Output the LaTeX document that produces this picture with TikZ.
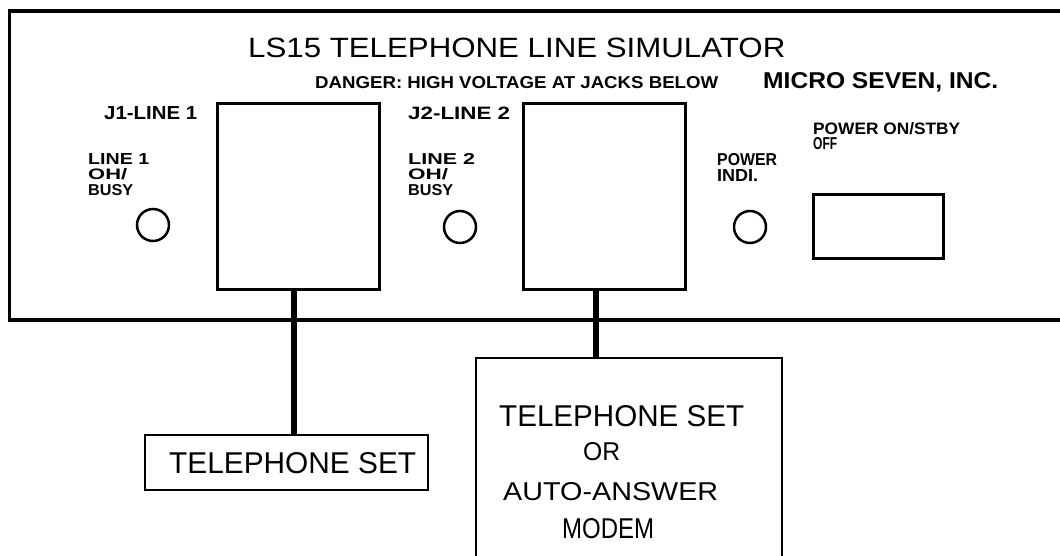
\documentclass[tikz,border=0pt]{standalone}
\usepackage{fontspec}
\setmainfont{Liberation Sans}
\usepackage{graphicx}
\usetikzlibrary{positioning}

% lettering stretched to the plotted size: width, cap height, text
\newcommand{\cadtext}[3]{\resizebox{#1pt}{#2pt}{#3}}

\tikzset{
  panel/.style={line width=3.5pt},
  jack/.style={draw, line width=3pt, minimum width=162pt, minimum height=185pt, inner sep=0pt},
  led/.style={draw, circle, line width=2.5pt, minimum size=32pt, inner sep=0pt},
  devbox/.style={draw, line width=2.5pt, inner sep=0pt},
  cable/.style={line width=5.5pt},
  lbl/.style={inner sep=0pt, anchor=base west},
}

\begin{document}
\begin{tikzpicture}[x=1pt, y=-1pt]
  \useasboundingbox (0,0) rectangle (1060,556);
  \clip (0,0) rectangle (1060,556);

  % front panel
  \draw[panel] (9.5,11) rectangle (1085,320);
  \node[lbl] (title) at (248,57.5) {\cadtext{537}{19.5}{LS15 TELEPHONE LINE SIMULATOR}};
  \node[lbl] (danger) at (315,88.5) {\cadtext{403}{12}{\bfseries DANGER: HIGH VOLTAGE AT JACKS BELOW}};
  \node[lbl] (maker) at (763,89) {\cadtext{235}{16}{\bfseries MICRO SEVEN, INC.}};

  % jacks
  \node[jack] (jack1) at (298.5,196.5) {};
  \node[jack] (jack2) at (604,196.5) {};
  \node[lbl] (jack1lbl) at (104,120) {\cadtext{93}{13}{\bfseries J1-LINE 1}};
  \node[lbl] (jack2lbl) at (408,119.5) {\cadtext{102}{12.5}{\bfseries J2-LINE 2}};

  % indicators
  \foreach \n/\x/\y in {led1/153/225, led2/460/227, pwrled/750/227}{
    \node[led] (\n) at (\x,\y) {};
  }
  \node[lbl] (led1a) at (88,164.5) {\cadtext{61}{11}{\bfseries LINE 1}};
  \node[lbl] (led1b) at (88,179.5) {\cadtext{39}{11}{\bfseries OH/}};
  \node[lbl] (led1c) at (88,196) {\cadtext{45}{11}{\bfseries BUSY}};
  \node[lbl] (led2a) at (408,164.5) {\cadtext{67}{11}{\bfseries LINE 2}};
  \node[lbl] (led2b) at (408,179.5) {\cadtext{40}{11}{\bfseries OH/}};
  \node[lbl] (led2c) at (408,196) {\cadtext{45}{11}{\bfseries BUSY}};
  \node[lbl] (pwra) at (717,165.5) {\cadtext{60}{12}{\bfseries POWER}};
  \node[lbl] (pwrb) at (717,182) {\cadtext{41}{12}{\bfseries INDI.}};

  % power switch
  \node[devbox, line width=3pt, minimum width=130pt, minimum height=63pt] (switch) at (878,226.5) {};
  \node[lbl] (swa) at (813,135) {\cadtext{147}{12}{\bfseries POWER ON/STBY}};
  \node[lbl] (swb) at (813,150) {\cadtext{24}{12}{\bfseries OFF}};

  % equipment on the lines
  \node[devbox, minimum width=283pt, minimum height=55pt] (phone) at (286.5,462.5) {};
  \node[lbl] (phonelbl) at (169,473) {\cadtext{247}{21}{TELEPHONE SET}};
  \node[devbox, minimum width=306pt, minimum height=242pt] (modem) at (629,479) {};
  \node[lbl] (modema) at (499,426) {\cadtext{245}{21}{TELEPHONE SET}};
  \node[lbl] (modemb) at (583,460) {\cadtext{37}{18}{OR}};
  \node[lbl] (modemc) at (503,500) {\cadtext{215}{18}{AUTO-ANSWER}};
  \node[lbl] (modemd) at (562,538) {\cadtext{92}{20}{MODEM}};

  % cables
  \coordinate (cab1) at (294,0);
  \coordinate (cab2) at (596,0);
  \draw[cable] (jack1.south -| cab1) -- (phone.north -| cab1);
  \draw[cable] (jack2.south -| cab2) -- (modem.north -| cab2);
\end{tikzpicture}
\end{document}
